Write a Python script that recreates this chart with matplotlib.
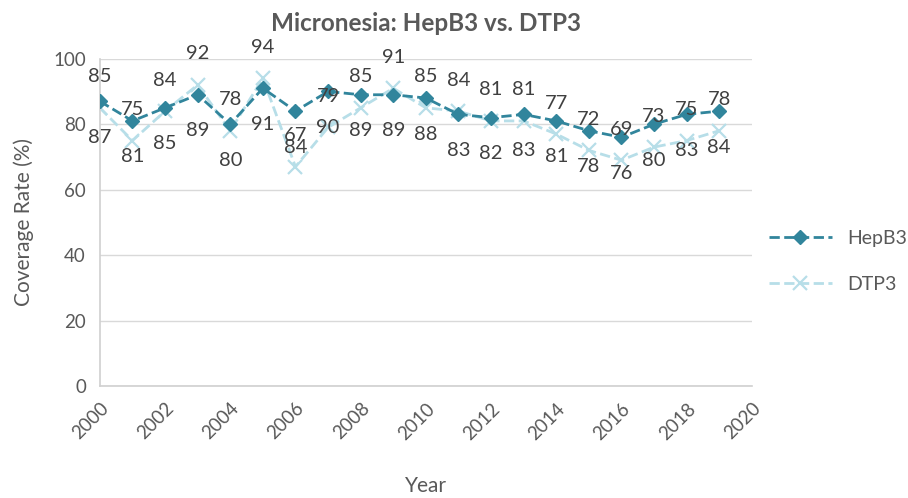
import matplotlib
matplotlib.use("Agg")
import matplotlib.pyplot as plt

plt.rcParams['font.family'] = ['Lato', 'DejaVu Sans']

years = list(range(2000, 2020))
hepb3 = [87, 81, 85, 89, 80, 91, 84, 90, 89, 89, 88, 83, 82, 83, 81, 78, 76, 80, 83, 84]
dtp3 = [85, 75, 84, 92, 78, 94, 67, 79, 85, 91, 85, 84, 81, 81, 77, 72, 69, 73, 75, 78]

hep_color = '#31859C'
dtp_color = '#B7DEE8'
text_color = '#404040'
axis_color = '#595959'

fig = plt.figure(figsize=(9.08, 4.98), dpi=100)
ax = fig.add_axes([0.110, 0.225, 0.718, 0.657])

ax.plot(years, hepb3, color=hep_color, linestyle='--', linewidth=2,
        marker='D', markersize=7, label='HepB3', zorder=3)
ax.plot(years, dtp3, color=dtp_color, linestyle='--', linewidth=2,
        marker='x', markersize=10, markeredgewidth=1.6, label='DTP3', zorder=2)

# data labels: HepB3 below, DTP3 above
for x, v in zip(years, hepb3):
    ax.annotate(str(v), (x, v), xytext=(0, -36), textcoords='offset pixels',
                ha='center', va='center', fontsize=14.5, color=text_color)
for x, v in zip(years, dtp3):
    ax.annotate(str(v), (x, v), xytext=(0, 31), textcoords='offset pixels',
                ha='center', va='center', fontsize=14.5, color=text_color)

ax.set_xlim(2000, 2020)
ax.set_ylim(0, 100)
ax.set_xticks(range(2000, 2021, 2))
ax.set_yticks(range(0, 101, 20))
ax.grid(axis='y', color='#D9D9D9', linewidth=1)
ax.set_axisbelow(True)
for s in ['top', 'right']:
    ax.spines[s].set_visible(False)
for s in ['left', 'bottom']:
    ax.spines[s].set_color('#D0D0D0')
    ax.spines[s].set_linewidth(1.2)
ax.tick_params(length=0, labelsize=13.5, colors=axis_color, pad=10)
plt.setp(ax.get_xticklabels(), rotation=45, ha='right', rotation_mode='anchor')

ax.set_xlabel('Year', fontsize=15, color=axis_color, labelpad=24)
ax.set_ylabel('Coverage Rate (%)', fontsize=15, color=axis_color, labelpad=14)
ax.set_title('Micronesia: HepB3 vs. DTP3', fontsize=17.5, fontweight='bold',
             color=axis_color, pad=20)

leg = ax.legend(loc='center left', bbox_to_anchor=(1.0, 0.38), frameon=False,
                fontsize=14, labelspacing=1.5, handlelength=3.2, labelcolor=axis_color)

fig.savefig('out.png', dpi=100)
